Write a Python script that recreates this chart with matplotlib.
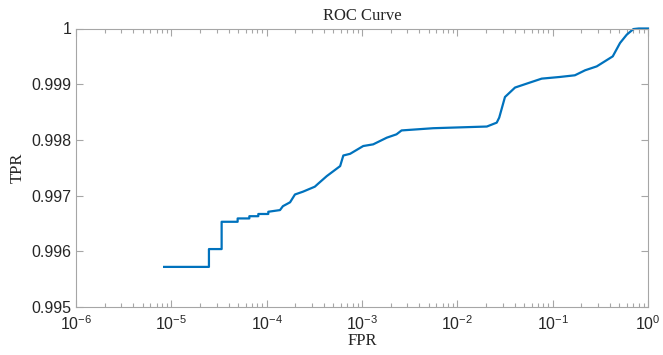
import matplotlib
matplotlib.use('Agg')
import matplotlib.pyplot as plt
from matplotlib.ticker import FuncFormatter, LogLocator, NullFormatter

# ROC curve points (FPR on a log scale)
fpr = [8.4e-6, 2.48e-5, 2.48e-5, 3.37e-5, 3.37e-5, 4.96e-5, 4.96e-5, 6.58e-5, 6.58e-5,
       8.17e-5, 8.17e-5, 1.04e-4, 1.04e-4, 1.38e-4, 1.48e-4, 1.76e-4, 1.98e-4, 2.4e-4,
       3.2e-4, 3.5e-4, 4.27e-4, 5.9e-4, 6.37e-4, 7.5e-4, 1.03e-3, 1.31e-3, 1.82e-3,
       2.3e-3, 2.6e-3, 5.6e-3, 2.04e-2, 2.59e-2, 2.75e-2, 3.16e-2, 4.03e-2, 5.78e-2,
       7.67e-2, 0.119, 0.171, 0.219, 0.29, 0.427, 0.509, 0.599, 0.703, 0.8, 1.0]
tpr = [0.99572, 0.99572, 0.99604, 0.99604, 0.99653, 0.99653, 0.99659, 0.99659, 0.99663,
       0.99663, 0.99667, 0.99667, 0.99671, 0.99674, 0.99681, 0.99688, 0.99702, 0.99707,
       0.99716, 0.99722, 0.99735, 0.99753, 0.99772, 0.99775, 0.99789, 0.99792, 0.99804,
       0.99810, 0.99817, 0.99821, 0.99824, 0.99831, 0.99840, 0.99877, 0.99894, 0.99903,
       0.99910, 0.99913, 0.99916, 0.99925, 0.99932, 0.99950, 0.99974, 0.99989, 0.99999,
       1.0, 1.0]

yticks = [0.995, 0.996, 0.997, 0.998, 0.999, 1.0]

axcol = '#a6a6a6'
txtcol = '#262626'

fig = plt.figure(figsize=(6.63, 3.55), dpi=100)
ax = fig.add_axes([76/663, 1-307/355, (648-76)/663, (307-28.5)/355])

ax.plot(fpr, tpr, color='#0072BD', linewidth=1.6, clip_on=False)

ax.set_xscale('log')
ax.set_xlim(1e-6, 1)
ax.set_ylim(0.995, 1.0)
ax.set_yticks(yticks)
ax.yaxis.set_major_formatter(FuncFormatter(lambda v, p: '%g' % round(v, 4)))
ax.xaxis.set_major_locator(LogLocator(base=10, numticks=10))
ax.xaxis.set_minor_locator(LogLocator(base=10, subs=range(2, 10), numticks=20))
ax.xaxis.set_minor_formatter(NullFormatter())

for s in ax.spines.values():
    s.set_color(axcol)
    s.set_linewidth(0.8)
ax.tick_params(which='both', direction='in', top=True, right=True, color=axcol,
               labelcolor=txtcol, labelsize=11.5, width=0.8)
ax.tick_params(which='major', length=5)
ax.tick_params(which='minor', length=3)
for lab in ax.get_xticklabels() + ax.get_yticklabels():
    lab.set_family('Liberation Sans')
ax.tick_params(axis='x', pad=5)
ax.tick_params(axis='y', pad=3)

serif = {'family': 'Liberation Serif', 'size': 12, 'color': txtcol}
ax.set_title('ROC Curve', fontdict=serif, pad=6)
ax.set_xlabel('FPR', fontdict=serif, labelpad=0)
ax.set_ylabel('TPR', fontdict=serif)
ax.yaxis.set_label_coords(-0.088, 0.5)

fig.savefig('out.png', dpi=100)
